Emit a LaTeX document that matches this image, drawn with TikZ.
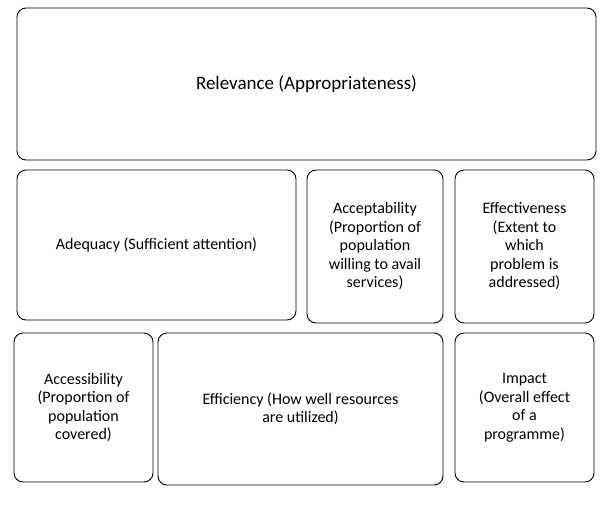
\documentclass[tikz,border=0pt]{standalone}
\usepackage{fontspec}
\setmainfont{Carlito}
\usetikzlibrary{positioning}

\begin{document}
\begin{tikzpicture}[x=1pt,y=-1pt,
    crit/.style={draw, line width=0.9pt, rounded corners=9pt, align=center, inner sep=2pt, font=\fontsize{16}{18.5}\selectfont},
    box/.style n args={4}{crit, minimum width={(#3-#1)*1pt}, minimum height={(#4-#2)*1pt}}]
            \useasboundingbox (0,0) rectangle (608,512);
            \node[box={17}{8}{596}{160}, font=\fontsize{19}{22}\selectfont] (rel) at (306.5,84) {Relevance (Appropriateness)};
            \node[box={17}{170}{296}{320}] (adq) at (156.5,245) {Adequacy (Sufficient attention)};
            \node[box={307}{170}{443}{323}] (acc) at (375,246.5) {Acceptability\\(Proportion of\\population\\willing to avail\\services)};
            \node[box={455}{170}{594}{323}] (eff) at (524.5,246.5) {Effectiveness\\(Extent to\\which\\problem is\\addressed)};
            \node[box={14}{333}{153}{482}] (acs) at (83.5,407.5) {Accessibility\\(Proportion of\\population\\covered)};
            \node[box={158}{333}{443}{485}] (efc) at (300.5,409) {Efficiency (How well resources\\are utilized)};
            \node[box={455}{333}{594}{482}] (imp) at (524.5,407.5) {Impact\\(Overall effect\\of a\\programme)};
        \end{tikzpicture}
\end{document}
